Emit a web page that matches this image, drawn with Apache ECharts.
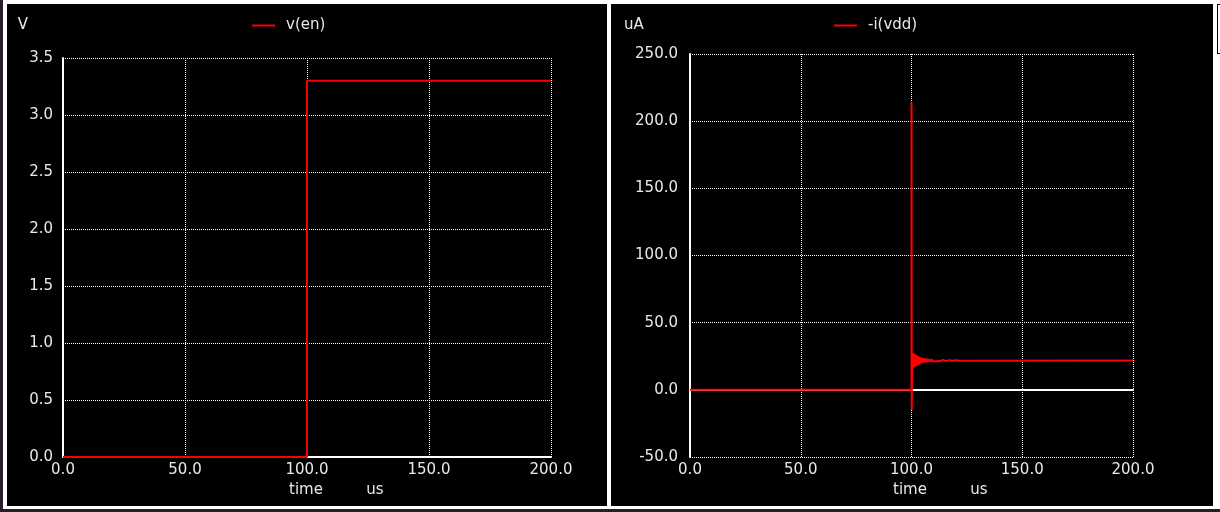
<!DOCTYPE html>
<html>
<head>
<meta charset="utf-8">
<script src="https://cdn.jsdelivr.net/npm/echarts@6/dist/echarts.min.js"></script>
<style>
  body { margin: 0; width: 1220px; height: 512px; background: #fff; position: relative; overflow: hidden; }
  #edge { position: absolute; left: 0; top: 0; width: 3px; height: 512px; background: #2b1c2b; }
  #foot { position: absolute; left: 0; top: 509px; width: 1220px; height: 3px; background: #2b1c2b; }
  #echarts1 { position: absolute; left: 7px; top: 4px; width: 600px; height: 502px; background: #000; }
  #echarts2 { position: absolute; left: 611px; top: 4px; width: 602px; height: 502px; background: #000; }
  #bracket { position: absolute; left: 1217px; top: 4px; width: 4px; height: 48px; border: 1px solid #000; border-right: none; }
</style>
</head>
<body>
<div id="edge"></div>
<div id="foot"></div>
<div id="echarts1"></div>
<div id="echarts2"></div>
<div id="bracket"></div>
<script>
// 数据
var timeTicks = [0, 50, 100, 150, 200];
var voltTicks = [0, 0.5, 1, 1.5, 2, 2.5, 3, 3.5];
var currTicks = [-50, 0, 50, 100, 150, 200, 250];

// v(en)
var enTime = [0, 100, 100, 200];
var enVal = [0, 0, 3.3, 3.3];

// -i(vdd)
var vddTime = [0, 100, 100, 100.1, 100.3, 100.5, 100.7, 100.9, 101.1, 101.3, 101.5, 101.7,
  101.9, 102.2, 102.5, 102.8, 103.1, 103.4, 103.7, 104.0, 104.4, 104.8, 105.2, 105.6,
  106.0, 106.5, 107.0, 107.5, 108.0, 108.6, 109.2, 109.8, 110.5, 111.2, 112.0, 113.0,
  114.0, 115.5, 117.0, 118.5, 120.0, 122.0, 200];
var vddVal = [0, 0, 214, -15, 27.5, 16.5, 27.5, 16.5, 27, 17, 26.5, 17.5,
  26, 18, 25.5, 18.5, 25, 19, 24.5, 19.5, 24, 20, 23.6, 20.3,
  23.3, 20.6, 23, 20.8, 22.8, 21, 22.6, 21.1, 22.4, 21.3, 22.3, 21.4,
  22.2, 21.5, 22.1, 21.6, 22.0, 21.7, 21.8];

var textColor = '#e8e8e8';
var fontName = 'DejaVu Sans';

function pairs(xs, ys) {
  return xs.map(function (x, i) { return [x, ys[i]]; });
}
function fmt(v) { return v.toFixed(1); }

function label(text, x, y) {
  return {
    type: 'text', x: x, y: y, silent: true,
    style: {
      text: text, fill: textColor, font: '15px "DejaVu Sans"',
      align: 'center', verticalAlign: 'middle',
      textAlign: 'center', textVerticalAlign: 'middle'
    }
  };
}

function makeOption(cfg) {
  var yt = cfg.yTicks;
  return {
    animation: false,
    textStyle: { fontFamily: fontName },
    grid: cfg.grid,
    legend: {
      data: [cfg.name],
      left: cfg.legendLeft,
      top: 9,
      icon: 'rect',
      itemWidth: 23,
      itemHeight: 2,
      textStyle: { color: textColor, fontSize: 15, fontFamily: fontName, padding: [0, 0, 0, 6] }
    },
    graphic: [
      label(cfg.unit, cfg.unitX, 21),
      label('time', 299, 486),
      label('us', 368, 486)
    ],
    xAxis: [{
      type: 'value',
      min: timeTicks[0],
      max: timeTicks[timeTicks.length - 1],
      interval: timeTicks[1] - timeTicks[0],
      axisLine: { show: false, onZero: false },
      axisTick: { show: false },
      axisLabel: { color: textColor, fontSize: 15, fontFamily: fontName, margin: 6, formatter: fmt },
      splitLine: { show: true, lineStyle: { color: '#fff', width: 1, type: [1, 1] } }
    }, {
      // 零线
      type: 'value',
      position: 'bottom',
      min: timeTicks[0],
      max: timeTicks[timeTicks.length - 1],
      axisLine: { show: true, onZero: true, lineStyle: { color: '#fff', width: 2 } },
      axisTick: { show: false },
      axisLabel: { show: false },
      splitLine: { show: false }
    }],
    yAxis: {
      type: 'value',
      min: yt[0],
      max: yt[yt.length - 1],
      interval: yt[1] - yt[0],
      axisLine: { show: true, onZero: false, lineStyle: { color: '#fff', width: 2 } },
      axisTick: { show: false },
      axisLabel: { color: textColor, fontSize: 15, fontFamily: fontName, margin: cfg.yMargin, formatter: fmt },
      splitLine: { show: true, lineStyle: { color: '#fff', width: 1, type: [1, 1] } }
    },
    series: [{
      name: cfg.name,
      type: 'line',
      xAxisIndex: 0,
      data: cfg.data,
      showSymbol: false,
      symbol: 'none',
      lineStyle: { color: '#ff0000', width: 2 },
      itemStyle: { color: '#ff0000' }
    }]
  };
}

var myChart1 = echarts.init(document.getElementById('echarts1'));
myChart1.setOption(makeOption({
  name: 'v(en)', unit: 'V', unitX: 16,
  yTicks: voltTicks, yMargin: 10,
  grid: { left: 56, top: 54, width: 488, height: 399 },
  legendLeft: 240,
  data: pairs(enTime, enVal)
}));

var myChart2 = echarts.init(document.getElementById('echarts2'));
myChart2.setOption(makeOption({
  name: '-i(vdd)', unit: 'uA', unitX: 23,
  yTicks: currTicks, yMargin: 12,
  grid: { left: 79, top: 50, width: 443, height: 403 },
  legendLeft: 218,
  data: pairs(vddTime, vddVal)
}));
</script>
</body>
</html>
